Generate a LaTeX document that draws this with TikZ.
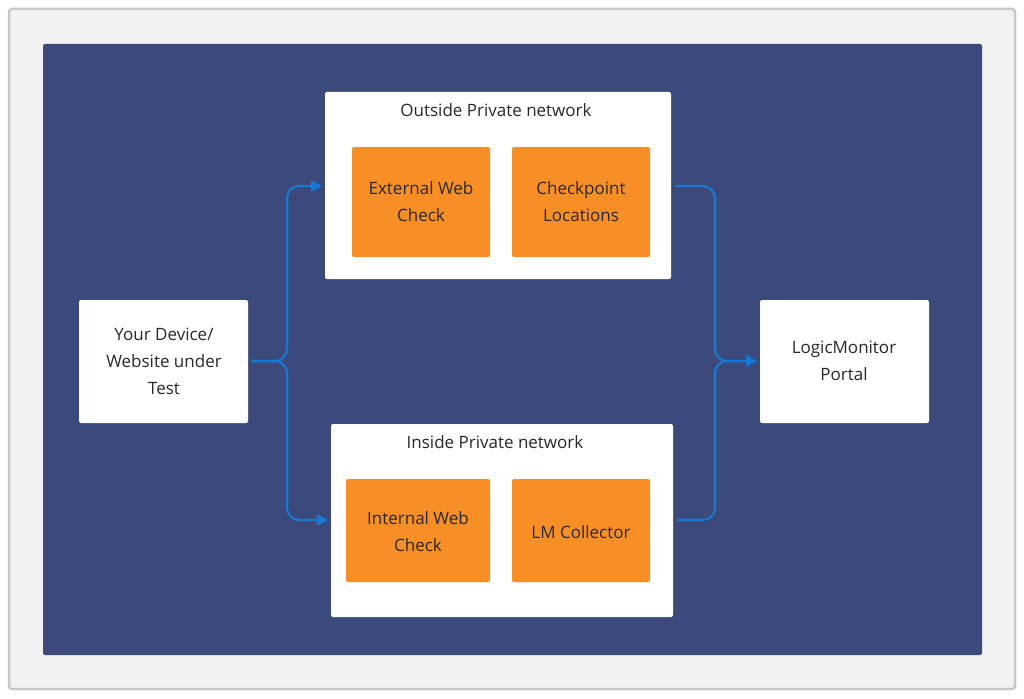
\documentclass[tikz,border=0pt]{standalone}
\usepackage{fontspec}
\setmainfont{Open Sans}
\usetikzlibrary{arrows.meta}
\definecolor{navy}{RGB}{59,74,122}
\definecolor{org}{RGB}{247,142,38}
\definecolor{arr}{RGB}{22,120,215}
\definecolor{txt}{RGB}{40,40,40}
\begin{document}
\begin{tikzpicture}[x=1pt,y=-1pt,
 wbox/.style={fill=white,rounded corners=2pt,draw=none},
 obox/.style={fill=org,rounded corners=2pt,draw=none},
 lab/.style={font=\fontsize{17}{27}\selectfont,text=txt,align=center},
 con/.style={draw=arr,line width=2.2pt,rounded corners=12pt,-{Triangle[length=11pt,width=11pt]}}]
\useasboundingbox (0,0) rectangle (1024,698);
\fill[white] (0,0) rectangle (1024,698);
\draw[fill=black!5,draw=black!22,line width=2.5pt,rounded corners=3pt] (9,9) rectangle (1015,689);
\fill[navy,rounded corners=2pt] (43,44) rectangle (982,655);
\fill[wbox] (325,92) rectangle (671,279);
\node[lab] (tl) at (496,110) {Outside Private network};
\fill[obox] (352,147) rectangle (490,257);
\node[lab] (ext) at (421,202) {External Web\\Check};
\fill[obox] (512,147) rectangle (650,257);
\node[lab] (cp) at (581,202) {Checkpoint\\Locations};
\fill[wbox] (331,424) rectangle (673,617);
\node[lab] (bl) at (495,442) {Inside Private network};
\fill[obox] (346,479) rectangle (490,582);
\node[lab] (int) at (418,532) {Internal Web\\Check};
\fill[obox] (512,479) rectangle (650,582);
\node[lab] (lm) at (581,532) {LM Collector};
\fill[wbox] (79,300) rectangle (248,423);
\node[lab] (dev) at (164,361) {Your Device/\\Website under\\Test};
\fill[wbox] (760,300) rectangle (929,423);
\node[lab] (lmp) at (844,361) {LogicMonitor\\Portal};
\coordinate (a0) at (251,361);
\coordinate (a1) at (322,186);
\coordinate (a2) at (328,520);
\coordinate (b1) at (675,186);
\coordinate (b2) at (677,520);
\coordinate (b0) at (757,361);
\draw[con] (a0) -| (287,186) -- (a1);
\draw[con] (a0) -| (287,520) -- (a2);
\draw[con] (b1) -| (715,361) -- (b0);
\draw[con] (b2) -| (715,361) -- (b0);
\end{tikzpicture}
\end{document}
